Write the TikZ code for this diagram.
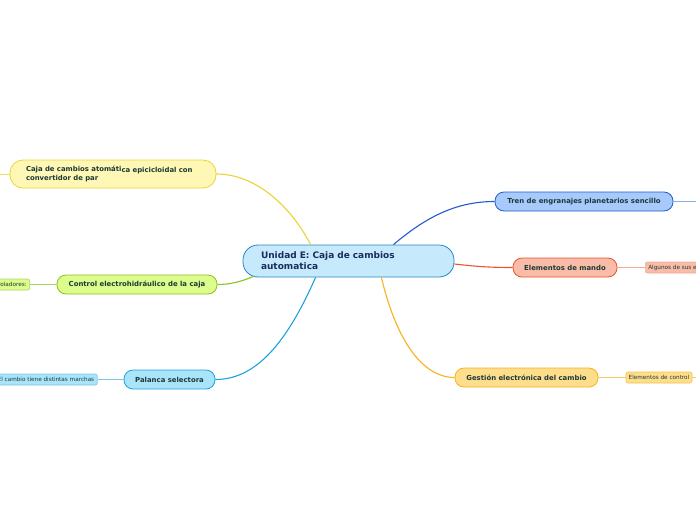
\documentclass[tikz,border=0pt]{standalone}
\usepackage{fontspec}
\setmainfont{DejaVu Sans}
\definecolor{txt}{HTML}{1B3A34}
\definecolor{navy}{HTML}{1A2B5E}
\definecolor{cenF}{HTML}{C6EAFB}\definecolor{cenD}{HTML}{2A85C4}
\definecolor{yelF}{HTML}{FFF7B5}\definecolor{yelD}{HTML}{EAD534}
\definecolor{grnF}{HTML}{DCFC8C}\definecolor{grnD}{HTML}{8CC320}
\definecolor{cyaF}{HTML}{A9E4FA}\definecolor{cyaD}{HTML}{1EA2DE}
\definecolor{bluF}{HTML}{A7C9FC}\definecolor{bluD}{HTML}{1F5DCF}
\definecolor{redF}{HTML}{F8BCA8}\definecolor{redD}{HTML}{E9552B}
\definecolor{ambF}{HTML}{FEDD8C}\definecolor{ambD}{HTML}{F6B31C}
\tikzset{
  topic/.style={draw, line width=0.8pt, rounded corners=9pt, inner sep=0pt,
    minimum height=19pt, font=\bfseries\fontsize{6.9}{8.5}\selectfont, text=txt},
  leaf/.style={draw, line width=0.6pt, rounded corners=2pt, inner xsep=3pt, inner ysep=0pt,
    minimum height=11pt, font=\fontsize{5.7}{6.5}\selectfont, text=txt},
  link/.style={line width=1.1pt},
  thin/.style={line width=0.7pt}
}
\begin{document}
\begin{tikzpicture}[x=1pt,y=-1pt]
\fill[white] (0,0) rectangle (696,520);
\useasboundingbox (0,0) rectangle (696,520);
\clip (0,0) rectangle (696,520);
% central
\node[draw=cenD, fill=cenF, line width=0.8pt, rounded corners=15pt, minimum width=211pt,
  minimum height=32pt, inner xsep=18pt, inner ysep=0pt, text width=175pt, align=left,
  font=\bfseries\fontsize{9}{11}\selectfont, text=navy] (c) at (348.5,261)
  {Unidad E: Caja de cambios\\automatica};
% topics
\node[topic, draw=yelD, fill=yelF, rounded corners=13pt, minimum width=206pt, minimum height=28pt,
  inner xsep=16pt, text width=174pt, align=left, font=\bfseries\fontsize{6.9}{8.5}\selectfont]
  (y) at (113,174) {Caja de cambios atomáti\raisebox{-1pt}{ca epicicloidal con}\\convertidor de par};
\node[topic, draw=grnD, fill=grnF, minimum width=160pt] (g) at (137,284.5) {Control electrohidráulico de la caja};
\node[topic, draw=cyaD, fill=cyaF, minimum width=91pt] (p) at (169.5,379.5) {Palanca selectora};
\node[topic, draw=bluD, fill=bluF, minimum width=178pt] (t) at (584,201.5) {Tren de engranajes planetarios sencillo};
\node[topic, draw=redD, fill=redF, minimum width=104pt] (m) at (565,267.5) {Elementos de mando};
\node[topic, draw=ambD, fill=ambF, minimum width=143pt] (e) at (526.5,377.5) {Gestión electrónica del cambio};
% leaves
\node[leaf, draw=grnD!70, fill=grnF, anchor=east] (g1) at (30,284.5) {Controladores:};
\node[leaf, draw=cyaD!60, fill=cyaF, anchor=east] (p1) at (97.5,379.5) {El cambio tiene distintas marchas};
\node[leaf, draw=redD!50, fill=redF, anchor=west] (m1) at (645,267.5) {Algunos de sus elementos};
\node[leaf, draw=ambD!80, fill=ambF, minimum width=66pt, inner xsep=0pt] (e1) at (659,377.5) {Elementos de control};
\coordinate (yl) at (-5,174);
\coordinate (tr) at (700,201.5);
\coordinate (er) at (700,377.5);
% connectors from centre
\draw[link, yelD] (c.north west)++(68,0) .. controls (290,205) and (255,174) .. (y.east);
\draw[link, grnD] (c.south west)++(11,-1) .. controls (240,282) and (230,284.5) .. (g.east);
\draw[link, cyaD] (c.south west)++(73,0) .. controls (290,335) and (260,379.5) .. (p.east);
\draw[link, bluD] (c.north east)++(-61,0) .. controls (425,218) and (455,201.5) .. (t.west);
\draw[link, redD] (c.east)++(0,3) .. controls (480,267) and (495,267.5) .. (m.west);
\draw[link, ambD] (c.south east)++(-73,0) .. controls (395,335) and (420,377.5) .. (e.west);
% leaf connectors
\draw[thin, yelD!80] (yl) -- (y.west);
\draw[thin, grnD!70] (g1.east) -- (g.west);
\draw[thin, cyaD!60] (p1.east) -- (p.west);
\draw[thin, bluD!50] (t.east) -- (tr);
\draw[thin, redD!50] (m.east) -- (m1.west);
\draw[thin, ambD!70] (e.east) -- (e1.west);
\draw[thin, ambD!70] (e1.east) -- (er);
\end{tikzpicture}
\end{document}
